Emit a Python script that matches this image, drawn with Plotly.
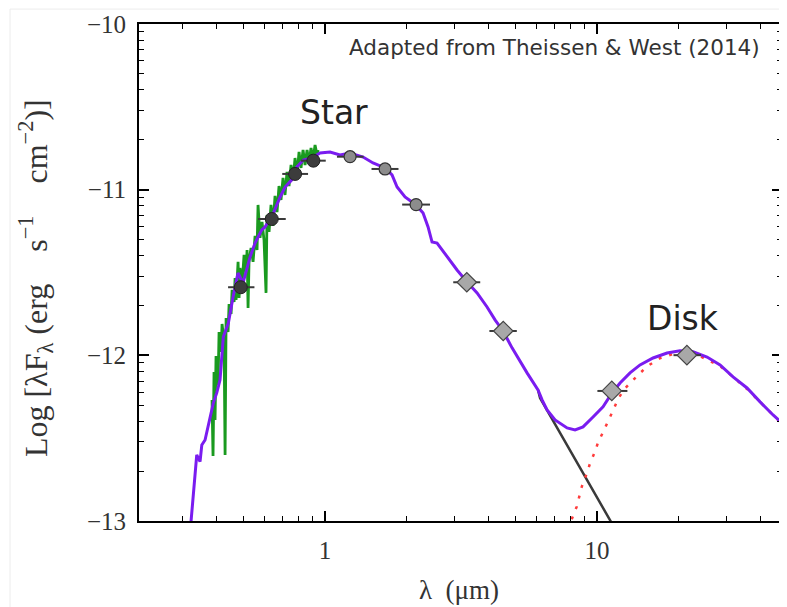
import numpy as np
import plotly.graph_objects as go

# model SED, star + disk (purple)
model_wave = [0.3215, 0.3326, 0.3375, 0.3471, 0.3523, 0.3621, 0.3777, 0.3885, 0.3998, 0.4111,
              0.4227, 0.4411, 0.4590, 0.4787, 0.4995, 0.5301, 0.5530, 0.5852, 0.6018, 0.6456,
              0.6835, 0.7131, 0.7545, 0.7870, 0.8322, 0.8935, 0.9585, 1.043, 1.135, 1.236,
              1.380, 1.501, 1.662, 1.763, 1.840, 1.968, 2.161, 2.293, 2.392, 2.474,
              2.581, 2.809, 3.057, 3.327, 3.622, 3.941, 4.217, 4.512, 4.870, 5.530,
              6.068, 6.280, 6.552, 7.009, 7.759, 8.300, 8.882, 9.667, 10.52, 11.35,
              12.15, 13.22, 14.39, 16.07, 18.09, 20.19, 22.54, 25.38, 28.33, 31.62,
              35.60, 39.76, 44.37, 47.87]
model_flux = [-13.005, -12.752, -12.601, -12.642, -12.541, -12.511, -12.370, -12.287, -12.227, -12.148,
              -11.889, -11.805, -11.648, -11.503, -11.563, -11.406, -11.322, -11.243, -11.225, -11.141,
              -11.044, -10.984, -10.941, -10.863, -10.821, -10.809, -10.779, -10.773, -10.791, -10.779,
              -10.803, -10.839, -10.869, -10.911, -10.984, -11.044, -11.092, -11.141, -11.225, -11.316,
              -11.322, -11.406, -11.485, -11.557, -11.623, -11.708, -11.786, -11.853, -11.955, -12.106,
              -12.209, -12.269, -12.329, -12.390, -12.438, -12.450, -12.432, -12.372, -12.311, -12.227,
              -12.167, -12.106, -12.058, -12.016, -11.986, -11.973, -11.979, -12.010, -12.058, -12.130,
              -12.197, -12.281, -12.360, -12.408]

# optical spectrum (green)
spec_wave = [0.3841, 0.3874, 0.3907, 0.3941, 0.3974, 0.4042, 0.4077, 0.4147, 0.4182, 0.4254,
             0.4290, 0.4327, 0.4400, 0.4438, 0.4514, 0.4552, 0.4630, 0.4669, 0.4709, 0.4789,
             0.4830, 0.4870, 0.4954, 0.5038, 0.5124, 0.5168, 0.5212, 0.5256, 0.5346, 0.5437,
             0.5530, 0.5623, 0.5671, 0.5768, 0.5866, 0.5966, 0.6068, 0.6119, 0.6224, 0.6330,
             0.6438, 0.6548, 0.6660, 0.6773, 0.6889, 0.7007, 0.7126, 0.7248, 0.7372, 0.7499,
             0.7627, 0.7757, 0.7890, 0.8024, 0.8161, 0.8301, 0.8443, 0.8587, 0.8734, 0.8883,
             0.9035, 0.9189, 0.9346, 0.9425]
spec_flux = [-12.269, -12.607, -12.100, -12.390, -12.004, -12.179, -11.859, -11.979, -11.811, -11.919,
             -12.601, -11.774, -11.859, -11.690, -11.750, -11.605, -11.678, -11.533, -11.666, -11.436,
             -11.654, -11.473, -11.575, -11.394, -11.509, -11.364, -11.714, -11.424, -11.352, -11.436,
             -11.279, -11.364, -11.092, -11.291, -11.195, -11.304, -11.623, -11.153, -11.255, -11.092,
             -11.219, -11.038, -11.135, -10.978, -11.062, -10.929, -11.032, -10.893, -10.978, -10.851,
             -10.941, -10.809, -10.911, -10.772, -10.869, -10.760, -10.851, -10.760, -10.833, -10.748,
             -10.821, -10.730, -10.791, -10.760]

# stellar photosphere alone (black)
star_wave = [6.068, 6.172, 7.311, 8.660, 10.26, 11.65]
star_flux = [-12.209, -12.257, -12.468, -12.680, -12.891, -13.048]

# disk alone (red dotted)
disk_wave = [7.89, 8.07, 8.42, 8.79, 9.17, 9.43, 9.83, 10.11, 10.55, 11.00,
             11.48, 11.98, 12.68, 13.60, 15.23, 17.05, 19.08, 22.54, 28.33, 35.60, 47.87]
disk_flux = [-13.054, -12.989, -12.913, -12.792, -12.712, -12.651, -12.581, -12.521, -12.460, -12.390,
             -12.329, -12.259, -12.199, -12.148, -12.068, -12.017, -11.992, -11.985, -12.064, -12.203, -12.414]

# photometry
opt_wave = [0.490, 0.637, 0.776, 0.906]
opt_flux = [-11.589, -11.177, -10.905, -10.825]
opt_err_hi = [0.06, 0.08, 0.09, 0.10]
opt_err_lo = [0.05, 0.07, 0.08, 0.09]

nir_wave = [1.236, 1.662, 2.161]
nir_flux = [-10.801, -10.875, -11.090]
nir_err_hi = [0.15, 0.20, 0.27]
nir_err_lo = [0.13, 0.18, 0.24]

ir_wave = [3.32, 4.52, 11.33, 21.4]
ir_flux = [-11.559, -11.853, -12.215, -11.999]
ir_err_hi = [0.40, 0.55, 1.60, 2.70]
ir_err_lo = [0.36, 0.50, 1.30, 2.30]

x_major = [1, 10]
x_labels = ["1", "10"]
y_major = [-13, -12, -11, -10]
y_labels = ["\u221213", "\u221212", "\u221211", "\u221210"]

x_minor = [0.3, 0.4, 0.5, 0.6, 0.7, 0.8, 0.9, 2, 3, 4, 5, 6, 7, 8, 9, 20, 30, 40]
y_minor = [b + np.log10(k) for b in (-13, -12, -11) for k in range(2, 10)]

serif = "Liberation Serif"
sans = "DejaVu Sans"

fig = go.Figure()

fig.add_trace(go.Scatter(x=spec_wave, y=spec_flux, mode="lines",
                         line=dict(color="#1a9a1f", width=2.8)))
fig.add_trace(go.Scatter(x=star_wave, y=star_flux, mode="lines",
                         line=dict(color="#3a3a3a", width=2.5)))
fig.add_trace(go.Scatter(x=disk_wave, y=disk_flux, mode="lines",
                         line=dict(color="#ff3b3b", width=2.5, dash="3px,8px")))
fig.add_trace(go.Scatter(x=model_wave, y=model_flux, mode="lines",
                         line=dict(color="#7a1cf0", width=3)))

err_style = dict(type="data", symmetric=False, color="#3a3a3a", thickness=2, width=0)
fig.add_trace(go.Scatter(x=opt_wave, y=opt_flux, mode="markers",
                         error_x=dict(array=opt_err_hi, arrayminus=opt_err_lo, **err_style),
                         marker=dict(symbol="circle", size=13, color="#3c3c3c",
                                     line=dict(color="#222", width=1))))
fig.add_trace(go.Scatter(x=nir_wave, y=nir_flux, mode="markers",
                         error_x=dict(array=nir_err_hi, arrayminus=nir_err_lo, **err_style),
                         marker=dict(symbol="circle", size=12, color="#8c8c8c",
                                     line=dict(color="#333", width=1.2))))
fig.add_trace(go.Scatter(x=ir_wave, y=ir_flux, mode="markers",
                         error_x=dict(array=ir_err_hi, arrayminus=ir_err_lo, **err_style),
                         marker=dict(symbol="diamond", size=15, color="#a8a8a8",
                                     line=dict(color="#444", width=1.2))))

# page body keeps an 8px margin, so the figure is 8px smaller than the window
fig.update_layout(
    width=779, height=599,
    margin=dict(l=131, r=5, t=16, b=86, autoexpand=False),
    paper_bgcolor="white", plot_bgcolor="white",
    showlegend=False,
    xaxis=dict(type="log", range=[-0.684, 1.680],
               tickvals=x_major, ticktext=x_labels,
               ticks="inside", ticklen=10, tickwidth=1.5, tickcolor="black",
               minor=dict(tickvals=x_minor, ticks="inside", ticklen=5, tickwidth=1.2, tickcolor="black"),
               showline=True, linecolor="black", linewidth=2, mirror="ticks",
               showgrid=False, zeroline=False,
               tickfont=dict(family=serif, size=25, color="#333"), ticklabelstandoff=6),
    yaxis=dict(range=[-13, -10],
               tickvals=y_major, ticktext=y_labels,
               ticks="inside", ticklen=10, tickwidth=1.5, tickcolor="black",
               minor=dict(tickvals=y_minor, ticks="inside", ticklen=5, tickwidth=1.2, tickcolor="black"),
               showline=True, linecolor="black", linewidth=2, mirror="ticks",
               showgrid=False, zeroline=False,
               tickfont=dict(family=serif, size=25, color="#333"), ticklabelstandoff=6),
)

fig.add_annotation(text="Adapted from Theissen &amp; West (2014)", xref="paper", yref="paper",
                   x=0.969, y=0.952, xanchor="right", yanchor="middle", showarrow=False,
                   font=dict(family=sans, size=21.5, color="#333"))
fig.add_annotation(text="Star", xref="paper", yref="paper", x=0.303, y=0.821,
                   xanchor="center", yanchor="middle", showarrow=False,
                   font=dict(family=sans, size=33, color="#222"))
fig.add_annotation(text="Disk", xref="paper", yref="paper", x=0.846, y=0.408,
                   xanchor="center", yanchor="middle", showarrow=False,
                   font=dict(family=sans, size=33, color="#222"))
fig.add_annotation(text="\u03bb\u00a0\u00a0(\u03bcm)", xref="paper", yref="paper", x=0.498, y=-0.138,
                   xanchor="center", yanchor="middle", showarrow=False,
                   font=dict(family=serif, size=27, color="#333"))
fig.add_annotation(text="Log\u00a0[\u03bbF<sub>\u03bb</sub>\u00a0(erg\u00a0\u00a0\u00a0\u00a0s<sup>\u22121</sup>\u00a0\u00a0\u00a0\u00a0cm<sup>\u22122</sup>)]",
                   xref="paper", yref="paper", x=-0.16, y=0.489, textangle=-90,
                   xanchor="center", yanchor="middle", showarrow=False,
                   font=dict(family=serif, size=32, color="#333"))

# faint frame around the original figure
fig.add_shape(type="rect", xref="paper", yref="paper", x0=-0.2006, y0=-0.35, x1=1.2, y1=1.030,
              line=dict(color="#ececec", width=1), fillcolor="rgba(0,0,0,0)", layer="below")

fig.write_html("out.html")
